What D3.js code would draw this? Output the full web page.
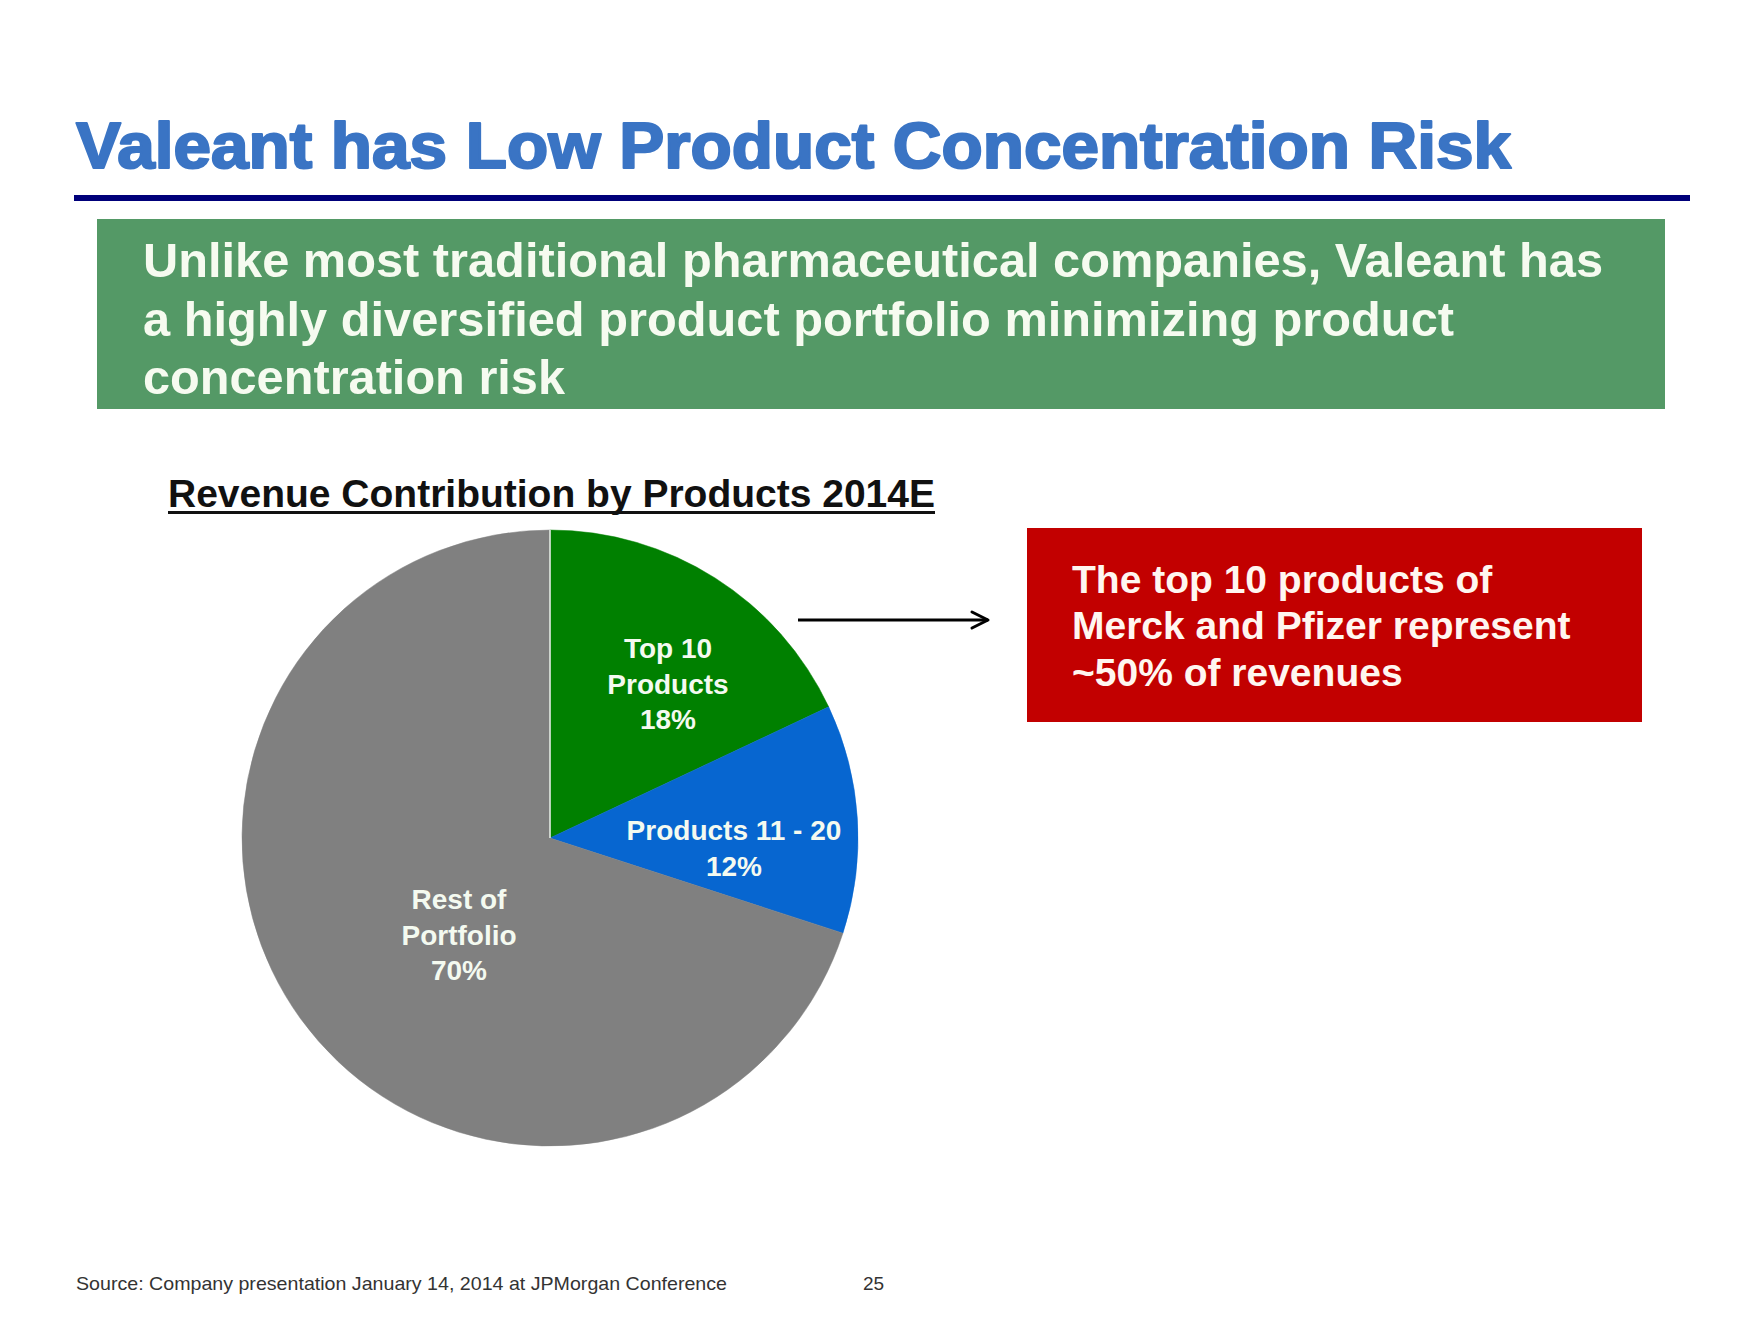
<!DOCTYPE html>
<html>
<head>
<meta charset="utf-8">
<script src="https://cdn.jsdelivr.net/npm/d3@7"></script>
<style>
  html, body { margin: 0; padding: 0; background: #ffffff; }
  svg { display: block; font-family: "Liberation Sans", Arial, sans-serif; }
</style>
</head>
<body>
<svg id="chart" width="1760" height="1320"></svg>
<script>
// ---- Data ----
const categories = ["Top 10 Products", "Products 11 - 20", "Rest of Portfolio"];
const shares = [18, 12, 70];
const sliceColors = ["#008000", "#0766D0", "#808080"];
const labelLines = [["Top 10", "Products", "18%"], ["Products 11 - 20", "12%"], ["Rest of", "Portfolio", "70%"]];

const titleText = "Valeant has Low Product Concentration Risk";
const subtitleLines = [
  "Unlike most traditional pharmaceutical companies, Valeant has",
  "a highly diversified product portfolio minimizing product",
  "concentration risk"
];
const chartTitle = "Revenue Contribution by Products 2014E";
const calloutLines = ["The top 10 products of", "Merck and Pfizer represent", "~50% of revenues"];
const sourceText = "Source: Company presentation January 14, 2014 at JPMorgan Conference";
const pageNumber = "25";

// ---- Drawing ----
const svg = d3.select("#chart");

// Title (heavy weight)
svg.append("text")
  .attr("x", 76).attr("y", 168)
  .attr("font-size", 64).attr("font-weight", 700)
  .attr("fill", "#3A74C4")
  .attr("stroke", "#3A74C4").attr("stroke-width", 2.2).attr("stroke-linejoin", "round")
  .attr("textLength", 1435).attr("lengthAdjust", "spacingAndGlyphs")
  .text(titleText);

// Rule
svg.append("rect").attr("x", 74).attr("y", 195).attr("width", 1616).attr("height", 6).attr("fill", "#00007A");

// Green box
svg.append("rect").attr("x", 97).attr("y", 219).attr("width", 1568).attr("height", 190).attr("fill", "#549966");
const subW = [1460, 1311, 422];
const subY = [277, 336, 394];
subtitleLines.forEach((t, i) => {
  svg.append("text")
    .attr("x", 143).attr("y", subY[i])
    .attr("font-size", 48).attr("font-weight", 700)
    .attr("fill", "#F6FBF0")
    .attr("textLength", subW[i]).attr("lengthAdjust", "spacingAndGlyphs")
    .text(t);
});

// Chart title with underline
svg.append("text")
  .attr("x", 168).attr("y", 507)
  .attr("font-size", 38).attr("font-weight", 700)
  .attr("fill", "#111")
  .attr("textLength", 767).attr("lengthAdjust", "spacingAndGlyphs")
  .text(chartTitle);
svg.append("rect").attr("x", 168).attr("y", 511).attr("width", 767).attr("height", 3).attr("fill", "#111");

// Pie
const cx = 550, cy = 838, r = 308;
const pie = d3.pie().sort(null).value(d => d)(shares);
const arc = d3.arc().innerRadius(0).outerRadius(r);
const g = svg.append("g").attr("transform", `translate(${cx},${cy})`);
g.selectAll("path").data(pie).join("path")
  .attr("d", arc)
  .attr("fill", (d, i) => sliceColors[i])
  .attr("stroke", (d, i) => sliceColors[i]).attr("stroke-width", 0.5);
// thin light seam at the start of the first slice
const seamEnd = d3.pointRadial(pie[0].startAngle, r);
g.append("line").attr("x1", 0).attr("y1", 0).attr("x2", seamEnd[0]).attr("y2", seamEnd[1])
  .attr("stroke", "#E8F0E8").attr("stroke-width", 1.5);

// Slice labels
const labelPos = [
  { dx: 118, y0: 658, lh: 35.5 },
  { dx: 184, y0: 840, lh: 35.5 },
  { dx: -91, y0: 909, lh: 35.5 }
];
labelLines.forEach((lines, i) => {
  const t = svg.append("text")
    .attr("text-anchor", "middle")
    .attr("font-size", 28).attr("font-weight", 700)
    .attr("fill", "#F4FAF0");
  lines.forEach((ln, j) => {
    t.append("tspan").attr("x", cx + labelPos[i].dx).attr("y", labelPos[i].y0 + j * labelPos[i].lh).text(ln);
  });
});

// Arrow
svg.append("defs").append("marker")
  .attr("id", "arrowhead").attr("viewBox", "0 0 24 24")
  .attr("refX", 21).attr("refY", 12)
  .attr("markerWidth", 24).attr("markerHeight", 24)
  .attr("markerUnits", "userSpaceOnUse").attr("orient", "auto")
  .append("path").attr("d", "M5,4 L21,12 L5,20")
  .attr("fill", "none").attr("stroke", "#000").attr("stroke-width", 3)
  .attr("stroke-linecap", "round").attr("stroke-linejoin", "round");
svg.append("line")
  .attr("x1", 798).attr("y1", 620).attr("x2", 988).attr("y2", 620)
  .attr("stroke", "#000").attr("stroke-width", 3.2)
  .attr("marker-end", "url(#arrowhead)");

// Red callout
svg.append("rect").attr("x", 1027).attr("y", 528).attr("width", 615).attr("height", 194).attr("fill", "#C20000");
const calY = [593, 639, 686];
calloutLines.forEach((t, i) => {
  svg.append("text")
    .attr("x", 1072).attr("y", calY[i])
    .attr("font-size", 39).attr("font-weight", 700)
    .attr("fill", "#FFF6F0")
    .text(t);
});

// Footer
svg.append("text")
  .attr("x", 76).attr("y", 1290)
  .attr("font-size", 19).attr("fill", "#333")
  .attr("textLength", 651).attr("lengthAdjust", "spacingAndGlyphs")
  .text(sourceText);
svg.append("text")
  .attr("x", 863).attr("y", 1290)
  .attr("font-size", 19).attr("fill", "#333")
  .text(pageNumber);
</script>
</body>
</html>
